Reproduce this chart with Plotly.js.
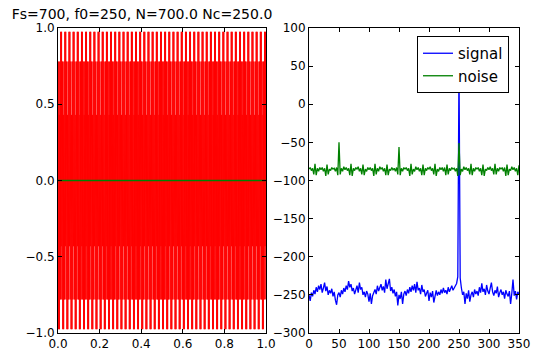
<!DOCTYPE html>
<html>
<head>
<meta charset="utf-8">
<script src="https://cdn.plot.ly/plotly-3.0.1.min.js"></script>
<style>html,body{margin:0;padding:0;background:#fff;}#chart{width:540px;height:364px;}</style>
</head>
<body>
<div id="chart"></div>
<script>
// ---- Left panel: time signal (one 14-sample cycle, repeated)
const Fs = 700;
const nCycles = 50;
const signalCycle = [0, 0.78, -0.975, 0.43, 0.43, -0.975, 0.78, 0, -0.78, 0.975, -0.43, -0.43, 0.975, -0.78];
const noiseCycle = [0, 0, 0, 0, 0, 0, 0, 0, 0, 0, 0, 0, 0, 0];

// ---- Right panel: spectrum (dB) every 2 Hz
const freqs = [0,2,4,6,8,10,12,14,16,18,20,22,24,26,28,30,32,34,36,38,40,42,44,46,48,50,52,54,56,58,
60,62,64,66,68,70,72,74,76,78,80,82,84,86,88,90,92,94,96,98,100,102,104,106,108,110,112,114,116,118,
120,122,124,126,128,130,132,134,136,138,140,142,144,146,148,150,152,154,156,158,160,162,164,166,168,170,172,174,176,178,
180,182,184,186,188,190,192,194,196,198,200,202,204,206,208,210,212,214,216,218,220,222,224,226,228,230,232,234,236,238,
240,242,244,246,248,250,252,254,256,258,260,262,264,266,268,270,272,274,276,278,280,282,284,286,288,290,292,294,296,298,
300,302,304,306,308,310,312,314,316,318,320,322,324,326,328,330,332,334,336,338,340,342,344,346,348,350];

const signalDb = [
-250,-258,-247,-252,-244,-249,-240,-246,-238,-243,
-236,-247,-241,-234,-245,-239,-250,-244,-248,-242,
-252,-246,-257,-263,-250,-247,-253,-244,-249,-241,
-246,-238,-243,-232,-240,-236,-245,-241,-249,-244,
-238,-247,-234,-243,-240,-250,-246,-253,-245,-249,
-259,-248,-262,-251,-246,-243,-249,-238,-245,-241,
-236,-244,-239,-247,-230,-242,-237,-229,-245,-240,
-248,-243,-252,-246,-264,-250,-255,-246,-262,-249,
-245,-251,-243,-248,-240,-246,-238,-244,-236,-247,
-233,-244,-241,-249,-237,-246,-243,-252,-248,-244,
-258,-247,-253,-245,-260,-249,-244,-251,-246,-250,
-243,-248,-241,-247,-244,-249,-240,-246,-242,-238,
-244,-240,-238,-235,-226,50,-228,-241,-250,-246,
-262,-248,-255,-244,-259,-250,-246,-253,-243,-249,
-245,-251,-240,-247,-235,-246,-242,-250,-237,-245,
-249,-241,-234,-246,-251,-244,-248,-239,-253,-247,
-243,-250,-246,-255,-244,-249,-252,-245,-262,-248,
-230,-251,-245,-256,-246,-249];

const noiseDb = [
-85,-83,-87,-84,-92,-78,-93,-84,-88,-83,
-86,-83,-88,-84,-94,-79,-92,-85,-87,-83,
-85,-84,-88,-83,-93,-50,-92,-84,-88,-82,
-86,-83,-87,-84,-93,-78,-94,-84,-87,-83,
-85,-82,-88,-84,-92,-79,-93,-85,-88,-83,
-86,-83,-87,-84,-94,-78,-92,-84,-88,-82,
-85,-83,-88,-84,-93,-79,-93,-85,-87,-83,
-86,-84,-88,-83,-92,-56,-93,-84,-88,-83,
-85,-83,-87,-84,-94,-78,-92,-85,-88,-82,
-86,-83,-88,-84,-93,-79,-93,-84,-87,-83,
-85,-82,-87,-84,-92,-78,-94,-85,-88,-83,
-86,-83,-88,-83,-93,-79,-92,-84,-87,-83,
-85,-84,-88,-84,-94,-51,-93,-85,-88,-82,
-86,-83,-87,-84,-92,-78,-93,-84,-88,-83,
-85,-83,-88,-84,-93,-79,-94,-85,-87,-83,
-86,-82,-87,-84,-92,-78,-92,-84,-88,-83,
-85,-83,-88,-83,-94,-79,-93,-85,-87,-82,
-86,-83,-88,-84,-93,-80];

const titleText = 'Fs=700, f0=250, N=700.0 Nc=250.0';

// build time series from the cycles
const t = [], sig = [], noi = [];
for (let c = 0; c < nCycles; c++) {
  for (let k = 0; k < signalCycle.length; k++) {
    const n = c * signalCycle.length + k;
    t.push(n / Fs);
    sig.push(signalCycle[k]);
    noi.push(noiseCycle[k]);
  }
}

const W = 540, H = 364;
const font = {family: 'DejaVu Sans, sans-serif', size: 12, color: '#000'};
const axBase = {
  showgrid: false, zeroline: false, showline: true, linecolor: '#000', linewidth: 1,
  mirror: 'ticks', ticks: 'inside', ticklen: 4, tickcolor: '#000', tickwidth: 1,
  tickfont: font, fixedrange: true
};
const yDom = [1 - 333 / H, 1 - 28 / H];

const traces = [
  {x: t, y: sig, xaxis: 'x', yaxis: 'y', mode: 'lines', line: {color: '#ff0000', width: 1}, showlegend: false, hoverinfo: 'skip'},
  {x: t, y: noi, xaxis: 'x', yaxis: 'y', mode: 'lines', line: {color: '#008000', width: 1.3}, showlegend: false, hoverinfo: 'skip'},
  {x: freqs, y: signalDb, xaxis: 'x2', yaxis: 'y2', mode: 'lines', name: 'signal', line: {color: '#0000ff', width: 1.3}},
  {x: freqs, y: noiseDb, xaxis: 'x2', yaxis: 'y2', mode: 'lines', name: 'noise', line: {color: '#008000', width: 1.3}}
];

const layout = {
  width: W, height: H,
  margin: {l: 0, r: 0, t: 0, b: 0},
  paper_bgcolor: '#fff', plot_bgcolor: '#fff',
  font: font,
  title: {text: titleText, x: 142 / W, xanchor: 'center', y: 1 - 14 / H, yanchor: 'middle', xref: 'paper', yref: 'paper',
          font: {family: 'DejaVu Sans, sans-serif', size: 14, color: '#000'}},
  xaxis: Object.assign({}, axBase, {domain: [58 / W, 266 / W], range: [0, 1], dtick: 0.2, tickformat: '.1f', anchor: 'y'}),
  yaxis: Object.assign({}, axBase, {domain: yDom, range: [-1, 1], dtick: 0.5, tickformat: '.1f', anchor: 'x'}),
  xaxis2: Object.assign({}, axBase, {domain: [309 / W, 519 / W], range: [0, 350], dtick: 50, anchor: 'y2'}),
  yaxis2: Object.assign({}, axBase, {domain: yDom, range: [-300, 100], dtick: 50, anchor: 'x2'}),
  showlegend: true,
  legend: {x: 509 / W, xanchor: 'right', y: 1 - 36 / H, yanchor: 'top', bgcolor: '#fff', bordercolor: '#000', borderwidth: 1,
           font: {family: 'DejaVu Sans, sans-serif', size: 15, color: '#000'}}
};

Plotly.newPlot('chart', traces, layout, {staticPlot: true, displayModeBar: false});
</script>
</body>
</html>
